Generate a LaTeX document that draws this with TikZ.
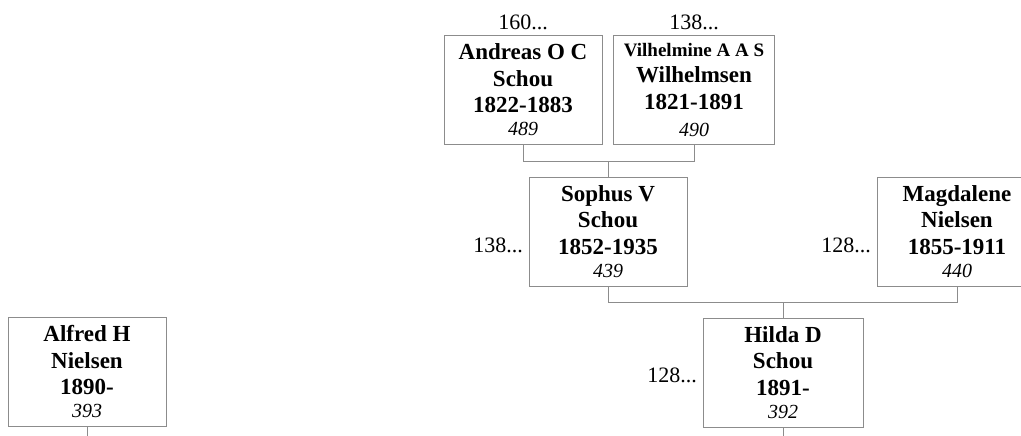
\documentclass[tikz,border=0pt]{standalone}
\usepackage{fontspec}
\setmainfont{Liberation Serif}
\definecolor{linegray}{HTML}{8C8C8C}
\newcommand\namefont{\fontsize{23}{26.5}\selectfont\bfseries}
\newcommand\numfont{\fontsize{20}{23}\selectfont\mdseries\itshape}
\newcommand\smallname{\fontsize{19}{22}\selectfont\bfseries}
\tikzset{
  pbox/.style={draw=linegray, line width=1pt, minimum width=158pt, minimum height=109pt,
               inner sep=0pt, align=center, font=\namefont, text=black},
  conn/.style={draw=linegray, line width=1pt},
  refl/.style={font=\fontsize{22}{24}\selectfont, inner sep=0pt, text=black},
}
\begin{document}
\begin{tikzpicture}[x=1pt, y=-1pt]
\useasboundingbox (0,0) rectangle (1021,436);
\clip (0,0) rectangle (1021,436);

\node[pbox] (andreas) at (523,90) {Andreas O C\\Schou\\1822-1883\\[-3.5pt]{\numfont 489}};
\node[pbox, minimum width=161pt] (vilh) at (694,90) {{\smallname Vilhelmine A A S}\\Wilhelmsen\\1821-1891\\[1pt]{\numfont 490}};
\node[pbox] (sophus) at (608,231.5) {Sophus V\\Schou\\1852-1935\\[-3.5pt]{\numfont 439}};
\node[pbox, minimum width=160pt] (magd) at (957,231.5) {Magdalene\\Nielsen\\1855-1911\\[-3.5pt]{\numfont 440}};
\node[pbox, minimum width=160pt] (hilda) at (783,372.5) {Hilda D\\Schou\\1891-\\[-3.5pt]{\numfont 392}};
\node[pbox] (alfred) at (87,371.5) {Alfred H\\Nielsen\\1890-\\[-3.5pt]{\numfont 393}};

\node[refl, anchor=base] (r1) at (523,30) {160...};
\node[refl, anchor=base] (r2) at (694,30) {138...};
\node[refl, anchor=base east] (r3) at (523,252) {138...};
\node[refl, anchor=base east] (r4) at (871,252) {128...};
\node[refl, anchor=base east] (r5) at (697,382) {128...};

\draw[conn] (andreas.south) -- ++(0,16) -| (vilh.south);
\draw[conn] (sophus.north) -- ++(0,-16);
\draw[conn] (sophus.south) -- ++(0,16) -| (magd.south);
\draw[conn] (hilda.north) -- ++(0,-16);
\coordinate (bottomedge) at (0,436);
\draw[conn] (hilda.south) -- (hilda.south |- bottomedge);
\draw[conn] (alfred.south) -- (alfred.south |- bottomedge);
\end{tikzpicture}
\end{document}
